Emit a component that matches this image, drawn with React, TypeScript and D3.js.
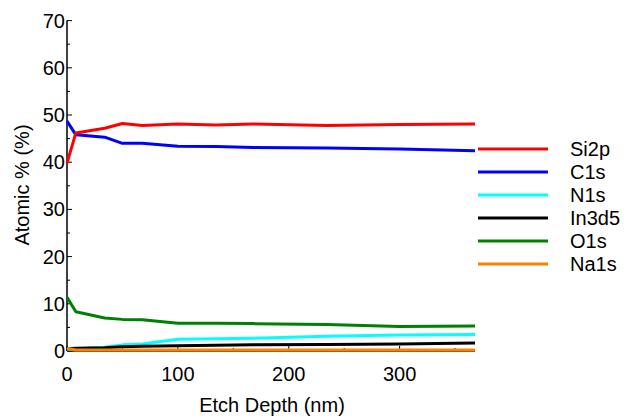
import React from "react";
import * as d3 from "d3";

const depth = [0, 8, 34, 50, 68, 100, 134, 168, 234, 300, 368];
const si2p = [39.8, 46.2, 47.2, 48.2, 47.8, 48.1, 47.9, 48.1, 47.8, 48.0, 48.1];
const c1s = [48.7, 45.8, 45.3, 44.0, 44.0, 43.4, 43.3, 43.1, 43.0, 42.8, 42.4];
const n1s = [0.3, 0.5, 0.8, 1.3, 1.5, 2.5, 2.6, 2.7, 3.1, 3.4, 3.5];
const in3d5 = [0.5, 0.6, 0.7, 0.9, 1.0, 1.1, 1.2, 1.3, 1.4, 1.5, 1.7];
const o1s = [11.4, 8.3, 7.0, 6.7, 6.6, 5.9, 5.9, 5.8, 5.6, 5.2, 5.3];
const na1s = [0.6, 0.2, 0.2, 0.2, 0.2, 0.2, 0.2, 0.2, 0.2, 0.2, 0.2];

const seriesNames = ["Si2p", "C1s", "N1s", "In3d5", "O1s", "Na1s"];
const seriesValues = [si2p, c1s, n1s, in3d5, o1s, na1s];
const seriesColors = ["#ff0000", "#0000ff", "#00ffff", "#000000", "#008000", "#ff8000"];

const xTicks = [0, 100, 200, 300];
const yTicks = [0, 10, 20, 30, 40, 50, 60, 70];

export default function App() {
  const W = 624, H = 416;
  const x = d3.scaleLinear().domain([0, 368]).range([67, 475]);
  const y = d3.scaleLinear().domain([0, 70]).range([351, 20.6]);
  const line = d3.line<[number, number]>().x((d) => x(d[0])).y((d) => y(d[1]));
  const font = "Liberation Sans, Arial, sans-serif";
  const xMinor = d3.range(0, 368, 50);
  const yMinor = d3.range(0, 71, 5);
  const drawOrder = [4, 2, 3, 5, 1, 0];
  return (
    <svg width={W} height={H} style={{ position: "absolute", left: 0, top: 0, background: "#fff" }} fontFamily={font}>
      {/* axes */}
      <line x1={x(0)} x2={x(0)} y1={y(70)} y2={y(0)} stroke="#000" strokeWidth={1.5} />
      <line x1={x(0)} x2={x(368)} y1={y(0)} y2={y(0)} stroke="#000" strokeWidth={1.5} />
      {yMinor.map((v) => (
        <line key={"ym" + v} x1={x(0)} x2={x(0) + (v % 10 === 0 ? 5 : 3)} y1={y(v)} y2={y(v)} stroke="#000" strokeWidth={1} />
      ))}
      {xMinor.map((v) => (
        <line key={"xm" + v} x1={x(v)} x2={x(v)} y1={y(0)} y2={y(0) - (v % 100 === 0 ? 5 : 3)} stroke="#000" strokeWidth={1} />
      ))}
      {yTicks.map((v) => (
        <text key={"yt" + v} x={65} y={y(v) + 7} textAnchor="end" fontSize={20} fill="#000">{v}</text>
      ))}
      {xTicks.map((v) => (
        <text key={"xt" + v} x={x(v)} y={381} textAnchor="middle" fontSize={20} fill="#000">{v}</text>
      ))}
      <text x={272} y={412} textAnchor="middle" fontSize={20} fill="#000">Etch Depth (nm)</text>
      <text transform="translate(29,185) rotate(-90)" textAnchor="middle" fontSize={20} fill="#000">Atomic % (%)</text>
      {/* series */}
      {drawOrder.map((i) => (
        <path key={seriesNames[i]} d={line(depth.map((d, j) => [d, seriesValues[i][j]]) as [number, number][]) || ""}
          fill="none" stroke={seriesColors[i]} strokeWidth={3} strokeLinejoin="round" />
      ))}
      {/* legend */}
      {seriesNames.map((n, i) => {
        const ly = 149 + i * 23;
        return (
          <g key={"lg" + n}>
            <line x1={478} x2={548} y1={ly} y2={ly} stroke={seriesColors[i]} strokeWidth={3} />
            <text x={570} y={ly + 7} fontSize={20} fill="#000">{n}</text>
          </g>
        );
      })}
    </svg>
  );
}
